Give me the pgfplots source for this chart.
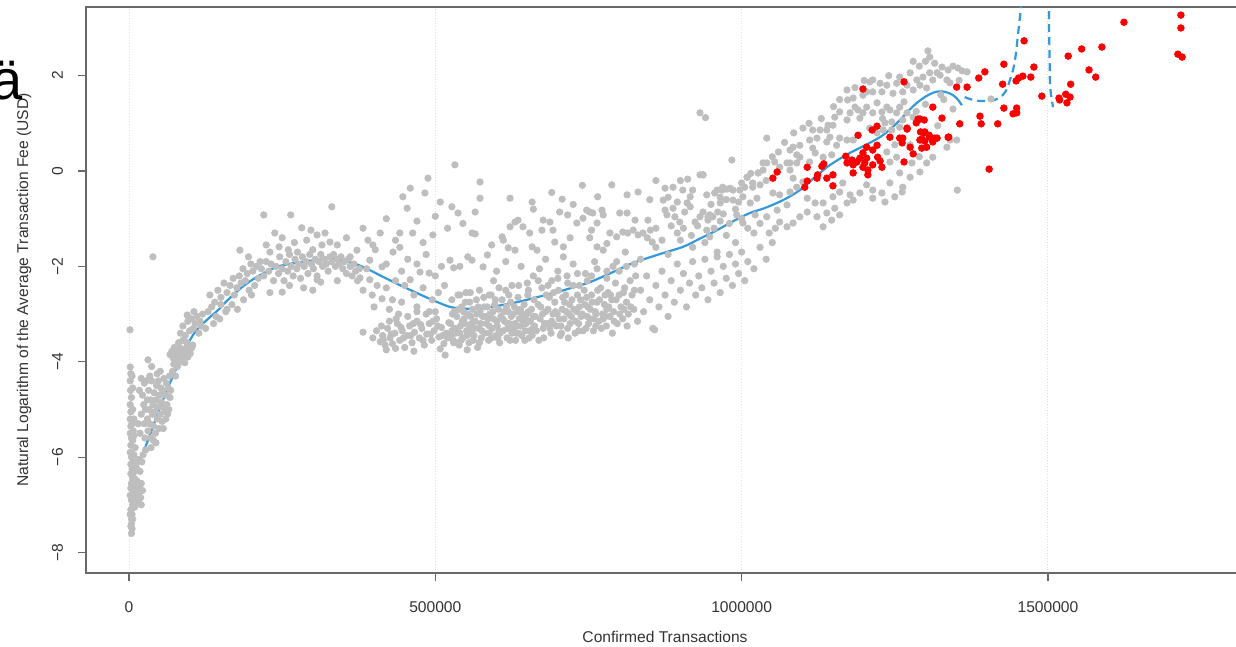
\documentclass[border=0pt]{standalone}
\usepackage{fontspec}
\setmainfont{Liberation Sans}
\usepackage{pgfplots}
\pgfplotsset{compat=1.18}

\definecolor{ptgray}{RGB}{190,190,190}
\definecolor{ptred}{RGB}{250,0,0}
\definecolor{lineblue}{RGB}{52,152,219}
\definecolor{axisgray}{RGB}{105,105,105}
\newcommand\lbl{\fontsize{7.8pt}{9pt}\selectfont}

\begin{document}
\begin{tikzpicture}
\begin{axis}[
  scale only axis,
  width=579pt, height=283pt,
  at={(43pt,37pt)}, anchor=south west,
  xmin=-70.2, xmax=1820, ymin=-8.43, ymax=3.44,
  axis line style={axisgray, line width=0.8pt},
  xtick={0,500,1000,1500},
  xticklabels={0,500000,1000000,1500000},
  ytick={-8,-6,-4,-2,0,2},
  yticklabels={−8,−6,−4,−2,0,2},
  xtick pos=bottom, ytick pos=left,
  tick align=outside,
  major tick length=4pt,
  tick style={axisgray, line width=0.6pt},
  xmajorgrids,
  major grid style={densely dotted, black!12, line width=0.5pt},
  tick label style={font=\lbl, text=black!80},
  xticklabel style={anchor=north, yshift=-7pt},
  yticklabel style={xshift=-4pt, rotate=90, anchor=south},
  label style={font=\lbl, text=black!80},
  xlabel={Confirmed Transactions},
  ylabel={Natural Logarithm of the Average Transaction Fee (USD)},
  xlabel style={at={(axis description cs:0.5,-0.1131)}, anchor=center},
  ylabel style={at={(axis description cs:-0.0535,0.5)}, anchor=center},
  clip=true,
]

% grey: all observations
\addplot[ptgray, only marks, mark=*, mark size=1.6pt, mark options={draw=ptgray, fill=ptgray}] coordinates {
% near-zero volume strip
(1.6,-3.33)(2,-4.11)(2,-4.4)(2.5,-4.6)(2,-4.9)(3,-5.05)(2,-5.2)(3,-5.35)(2,-5.5)(4,-5.6)
(3,-5.75)(2,-5.9)(4,-6.0)(3,-6.15)(5,-6.25)(3,-6.35)(6,-6.45)(4,-6.55)(3,-6.65)(7,-6.7)
(5,-6.8)(4,-6.9)(6,-7.0)(3,-7.1)(5,-7.2)(4,-7.3)(4,-7.4)(5,-7.5)(4,-7.6)(8,-6.9)
(10,-6.8)(12,-6.95)(14,-6.9)(16,-6.75)(9,-7.05)(11,-6.6)(13,-6.5)(17,-6.6)(19,-6.85)(20,-6.55)
(9,-6.3)(11,-6.15)(7,-6.1)(8,-5.95)(10,-5.8)(6,-5.65)(7,-5.45)(5,-5.3)(8,-5.2)(6,-5.0)
(4,-4.75)(6,-4.55)(5,-4.3)(3,-4.25)(8,-5.55)(13,-6.25)(15,-6.05)(18,-6.3)(22,-6.7)(20,-7.0)
(6,-7.3)(3,-7.45)(7,-6.55)(9,-6.45)(2,-6.8)(2,-7.2)(6,-6.2)(12,-6.7)
% early rise
(15,-5.3)(18,-5.5)(20,-5.1)(22,-4.7)(24,-4.9)(25,-5.3)(26,-5.6)(27,-5.0)(28,-4.4)(30,-4.8)
(30,-5.2)(31,-5.45)(32,-4.6)(33,-5.0)(34,-5.3)(35,-4.8)(36,-5.6)(37,-4.4)(38,-5.1)(39,-4.9)
(40,-5.35)(41,-4.65)(42,-5.05)(43,-5.5)(44,-4.8)(45,-4.5)(46,-5.2)(47,-4.95)(48,-4.4)(49,-5.4)
(50,-4.7)(51,-5.1)(52,-4.55)(53,-4.85)(54,-5.25)(55,-4.6)(56,-4.95)(57,-4.35)(58,-5.05)(60,-4.7)
(61,-4.45)(62,-4.9)(63,-5.1)(64,-4.55)(66,-4.3)(67,-4.75)(68,-4.6)(36,-5.8)(40,-5.65)(44,-5.7)
(27,-5.85)(23,-5.95)(21,-6.1)(25,-4.45)(31,-3.96)(37,-4.1)(51,-4.2)(46,-4.25)(34,-4.3)(20,-4.35)
(17,-4.6)(56,-5.4)(60,-5.2)(65,-5.0)(39,-1.80)
(67,-3.85)(70,-3.78)(72,-3.92)(74,-3.7)(76,-3.82)(78,-3.95)(80,-3.75)(82,-3.88)(84,-3.72)(86,-3.8)
(88,-3.93)(90,-3.76)(92,-3.85)(94,-3.7)(96,-3.9)(98,-3.78)(100,-3.83)(102,-3.72)(73,-4.05)(79,-4.1)
(85,-4.0)(91,-4.02)(71,-4.2)(95,-3.6)(88,-3.55)(104,-3.65)(81,-3.6)(76,-4.3)
(84,-3.4)(88,-3.25)(92,-3.45)(96,-3.15)(99,-3.35)(102,-3.1)(105,-3.3)(108,-3.2)(111,-3.05)(114,-3.4)
(116,-3.15)(95,-3.02)(106,-2.95)(120,-3.0)(118,-3.25)
(129,-2.95)(135,-2.85)(142,-3.05)(150,-2.8)(160,-2.9)(125,-3.3)(138,-3.2)
(132,-2.6)(140,-2.75)(145,-2.5)(150,-2.65)(155,-2.35)(160,-2.55)(165,-2.4)(170,-2.25)(172,-2.6)(176,-2.45)
(180,-2.2)(183,-2.35)(186,-2.05)(190,-2.3)(193,-2.15)(196,-2.5)(199,-1.95)(202,-2.1)(205,-2.4)(208,-2.0)
(211,-2.25)(214,-1.9)(187,-2.7)(168,-2.8)(158,-2.95)(148,-3.1)(200,-2.6)(177,-2.9)
(181,-1.66)(195,-1.8)(220,-0.92)
% first peak
(216,-2.05)(220,-2.2)(224,-1.9)(228,-2.1)(232,-1.95)(236,-2.3)(240,-2.0)(244,-2.15)(246,-1.8)(250,-2.05)
(253,-2.3)(256,-1.9)(259,-2.1)(262,-1.75)(265,-2.0)(268,-2.2)(271,-1.85)(274,-2.05)(277,-1.95)(280,-2.25)
(283,-1.8)(286,-2.0)(289,-1.9)(292,-2.15)(295,-1.75)(298,-1.95)(301,-2.05)(304,-1.85)(307,-2.2)(310,-1.9)
(313,-1.75)(316,-2.0)(319,-1.85)(322,-1.95)(325,-2.1)(328,-1.8)(331,-1.9)(334,-1.75)(337,-2.0)(340,-1.85)
(343,-1.95)(346,-1.8)(349,-2.05)(352,-1.9)(355,-2.15)(358,-1.85)(361,-2.0)(364,-2.2)(367,-1.95)(370,-2.1)
(373,-2.3)(376,-2.05)
(230,-1.7)(245,-1.59)(260,-1.65)(270,-1.5)(282,-1.19)(297,-1.24)(307,-1.34)(320,-1.3)(328,-1.49)(250,-1.4)
(238,-1.3)(224,-1.55)(290,-1.45)(315,-1.55)(340,-1.55)(355,-1.4)(331,-0.75)(264,-0.92)(300,-1.65)(275,-1.7)
(307,-2.28)(313,-2.33)(250,-2.54)(262,-2.4)(285,-2.45)(340,-2.3)(300,-2.5)(230,-2.55)
% dip
(382,-1.2)(390,-1.45)(398,-1.55)(393,-2.28)(397,-2.6)(413,-2.68)(430,-2.70)(413,-2.01)(377,-2.24)(372,-1.66)
(361,-1.8)(393,-1.87)(431,-1.70)(442,-1.6)(442,-1.30)(463,-1.30)(496,-1.34)(459,-2.28)(475,-2.12)(490,-2.14)
(524,-1.87)(530,-2.03)(540,-2.0)(553,-1.80)(560,-1.30)(565,-1.32)(402,-1.65)(420,-1.95)(445,-2.1)(455,-1.85)
(470,-1.95)(485,-1.75)(500,-2.2)(510,-2.0)(515,-2.4)(450,-2.4)(465,-2.6)(480,-2.45)(495,-2.7)(505,-2.55)
(420,-2.45)(435,-2.3)(405,-2.4)(388,-2.05)(382,-2.5)(400,-2.85)(425,-2.9)(445,-2.75)(470,-2.85)(490,-2.95)
(532,0.13)(488,-0.15)(573,-0.23)(459,-0.36)(447,-0.54)(483,-0.46)(508,-0.65)(454,-0.78)(527,-0.75)(537,-0.88)
(565,-0.86)(573,-0.57)(420,-1.0)(410,-1.3)(470,-1.05)(500,-0.95)(520,-1.2)(545,-1.1)(435,-1.45)(480,-1.5)
(382,-3.38)(410,-3.58)(415,-3.54)(414,-3.45)(418,-3.65)(422,-3.3)(426,-3.5)(430,-3.62)(434,-3.4)(438,-3.2)
(442,-3.55)(446,-3.35)(450,-3.7)(454,-3.45)(458,-3.25)(462,-3.6)(466,-3.38)(470,-3.15)(474,-3.5)(478,-3.3)
(482,-3.65)(486,-3.42)(490,-3.2)(494,-3.55)(498,-3.35)(502,-3.1)(506,-3.48)(510,-3.28)(514,-3.62)(518,-3.4)
(522,-3.18)(508,-3.73)(516,-3.86)(552,-3.75)(530,-3.6)(425,-3.15)(440,-3.0)(455,-3.05)(470,-2.95)(485,-3.0)
(500,-2.95)(420,-3.75)(435,-3.72)(465,-3.78)(398,-3.5)(404,-3.35)
(412,-3.25)(428,-3.42)(444,-3.28)(460,-3.45)(476,-3.22)(492,-3.42)(504,-3.25)(520,-3.5)(536,-3.35)(548,-3.2)
(436,-3.1)(448,-3.5)(464,-3.2)(480,-3.55)(496,-3.15)(512,-3.45)(527,-3.35)(542,-3.55)(558,-3.4)(572,-3.6)
% lower band
(525,-3.2)(527,-2.7)(529,-3.55)(531,-2.95)(533,-3.4)(535,-3.05)(537,-2.6)(539,-3.65)(541,-3.25)(543,-2.85)
(545,-3.5)(547,-3.1)(549,-2.75)(551,-3.35)(553,-3.0)(555,-3.6)(557,-2.55)(559,-3.2)(561,-2.9)(563,-3.45)
(565,-3.15)(567,-2.7)(569,-3.7)(571,-3.3)(573,-2.95)(575,-3.5)(577,-3.05)(579,-2.65)(581,-3.4)(583,-3.2)
(585,-2.85)(587,-3.55)(589,-3.0)(591,-2.6)(593,-3.3)(595,-3.1)(597,-2.8)(599,-3.45)(601,-3.25)(603,-2.9)
(605,-3.6)(607,-3.05)(609,-2.7)(611,-3.35)(613,-3.15)(615,-2.5)(617,-3.5)(619,-2.95)(621,-3.2)(623,-2.75)
(625,-3.4)(627,-3.0)(629,-2.85)(631,-3.55)(633,-3.25)(635,-2.65)(637,-3.1)(639,-2.9)(641,-3.45)(643,-3.2)
(645,-2.8)(647,-3.35)(649,-3.0)(651,-2.6)(653,-3.5)(655,-3.15)(657,-2.9)(659,-3.3)(661,-2.7)(663,-3.05)
(526,-3.45)(532,-3.3)(538,-2.9)(544,-3.15)(550,-2.55)(556,-3.3)(562,-3.55)(568,-3.0)(574,-3.2)(580,-2.85)
(586,-3.1)(592,-3.5)(598,-2.7)(604,-3.35)(610,-3.1)(616,-2.85)(622,-3.55)(628,-3.3)(634,-2.95)(640,-3.25)
(646,-3.55)(652,-2.95)(658,-3.45)
(528,-3.0)(534,-3.6)(540,-3.4)(546,-2.95)(552,-3.45)(558,-3.05)(564,-3.3)(570,-2.85)(576,-3.35)(582,-3.05)
(588,-3.25)(594,-2.95)(600,-3.15)(606,-3.4)(612,-2.95)(618,-3.3)(624,-3.05)(630,-3.2)(636,-3.4)(642,-3.0)
(648,-3.2)(654,-3.35)(660,-3.05)
(588,-3.4)(602,-3.5)(618,-3.2)(632,-3.4)(648,-3.1)(662,-3.25)(676,-3.3)(692,-3.2)(706,-3.4)(718,-3.0)
(734,-3.35)(748,-3.05)(762,-3.25)(778,-3.05)(792,-3.15)(808,-2.9)
(665,-3.35)(668,-2.8)(671,-3.1)(674,-2.45)(677,-3.5)(680,-2.95)(683,-3.2)(686,-2.65)(689,-3.4)(692,-3.0)
(695,-2.75)(698,-3.25)(701,-2.5)(704,-3.45)(707,-2.9)(710,-3.1)(713,-2.6)(716,-3.3)(719,-2.8)(722,-3.05)
(725,-2.4)(728,-3.4)(731,-2.95)(734,-3.2)(737,-2.7)(740,-3.0)(743,-2.5)(746,-3.3)(749,-2.85)(752,-3.1)
(755,-2.6)(758,-3.35)(761,-2.95)(764,-2.75)(767,-3.15)(770,-2.45)(773,-3.0)(776,-2.8)(779,-3.25)(782,-2.55)
(785,-3.05)(788,-2.7)(791,-2.95)(794,-2.35)(797,-3.2)(800,-2.6)(803,-2.85)(806,-3.1)(809,-2.45)(812,-2.75)
(815,-3.0)(818,-2.3)(821,-2.6)(824,-2.9)(827,-2.2)(830,-3.15)
(669,-3.55)(675,-3.0)(681,-2.6)(687,-3.3)(693,-2.55)(699,-3.0)(705,-3.25)(711,-2.75)(717,-3.5)(723,-2.7)
(729,-3.15)(735,-2.85)(741,-3.35)(747,-2.65)(753,-2.9)(759,-3.1)(765,-2.5)(771,-3.3)(777,-2.6)(783,-2.85)
(789,-3.4)(795,-2.7)(801,-3.0)(807,-2.55)(813,-3.25)(819,-2.85)(825,-2.5)
(672,-2.85)(678,-3.2)(684,-2.9)(690,-3.15)(696,-2.95)(702,-3.1)(708,-2.65)(714,-2.95)(720,-3.2)(726,-2.9)
(732,-2.6)(738,-3.05)(744,-2.8)(750,-3.2)(756,-2.75)(762,-3.0)(768,-2.7)(774,-3.1)(780,-2.9)(786,-2.6)
(540,-2.6)(556,-2.75)(572,-2.5)(588,-2.6)(604,-2.45)(620,-2.6)(636,-2.4)(652,-2.5)(668,-2.3)(684,-2.4)
(700,-2.25)(716,-2.35)(732,-2.15)(748,-2.3)(764,-2.05)(780,-2.1)(796,-1.9)(812,-2.0)
% middle of the cloud
(609,-1.38)(611,-1.45)(622,-1.17)(630,-1.07)(635,-1.03)(619,-1.61)(630,-1.66)(643,-1.17)(654,-1.30)(658,-1.59)
(666,-1.66)(674,-1.24)(676,-1.03)(687,-1.07)(692,-1.24)(695,-1.49)(703,-0.86)(716,-0.92)(720,-1.40)(709,-1.59)
(709,-1.80)(731,-1.09)(741,-0.99)(747,-0.82)(752,-0.86)(757,-0.88)(772,-0.82)(774,-0.92)(764,-1.09)(755,-1.24)
(752,-1.40)(764,-1.59)(774,-1.66)(780,-1.52)(785,-1.30)(796,-1.38)(806,-1.28)(814,-1.30)(823,-1.24)(831,-1.34)
(839,-1.30)(846,-1.40)(801,-0.88)(813,-0.88)(826,-1.03)(847,-1.03)(851,-1.24)(854,-1.49)(875,-0.82)(878,-0.92)
(888,-0.78)(891,-0.96)(899,-1.07)(907,-0.86)(911,-0.67)(916,-0.75)(924,-1.07)(932,-0.96)(937,-0.86)(948,-0.92)
(945,-1.03)(953,-0.96)(943,-1.24)(948,-1.38)(578,-2.01)(585,-1.76)(592,-1.55)(560,-1.87)
(600,-2.1)(615,-1.9)(640,-2.0)(660,-2.2)(680,-1.85)(700,-2.1)(725,-1.95)(745,-2.15)(760,-1.9)(790,-2.0)
(810,-1.7)(835,-1.85)(860,-1.6)(880,-1.75)(900,-1.45)(920,-1.6)(940,-1.5)(960,-1.7)(975,-1.35)(990,-1.5)
(595,-2.3)(625,-2.4)(650,-2.35)(670,-2.05)(690,-2.3)(715,-2.2)(735,-2.4)(755,-2.2)(780,-2.25)(800,-2.1)
(825,-1.95)
(860,-1.2)(870,-1.45)(885,-1.15)(895,-1.3)(905,-1.2)(918,-1.35)(928,-1.15)(955,-1.2)(965,-1.05)(970,-0.9)
(980,-1.1)(990,-0.8)(1000,-1.0)(1010,-1.2)(1020,-1.3)(1030,-1.1)(1045,-1.3)(1055,-1.2)(880,-0.55)(895,-0.65)
(920,-0.4)(950,-0.7)(975,-0.6)(1000,-0.25)(1015,-0.05)(1040,-0.2)
(622,-0.57)(658,-0.65)(707,-0.59)(765,-0.54)(788,-0.29)(831,-0.44)(813,-0.50)(875,-0.36)(888,-0.34)(904,-0.40)
(916,-0.54)(932,-0.08)(937,-0.08)(912,-0.17)(872,-0.61)(984,0.23)(960,-0.40)(981,-0.36)(1009,-0.13)(1035,0.17)
(1027,-0.04)(1018,-0.34)(1051,-0.46)(1079,0.17)(1090,0.34)(941,1.12)(932,1.22)
(660,-0.8)(690,-0.45)(725,-0.7)(740,-0.3)(850,-0.6)(860,-0.2)(900,-0.2)(965,-0.55)(995,-0.65)
(835,-2.5)(840,-2.95)(845,-2.2)(850,-2.7)(855,-3.3)(860,-2.4)(865,-2.85)(870,-2.1)(875,-2.6)(880,-3.05)
(885,-2.3)(890,-2.75)(895,-1.95)(900,-2.5)(905,-2.15)(910,-2.85)(915,-2.35)(920,-1.9)(925,-2.6)(930,-2.2)
(935,-2.45)(940,-1.85)(945,-2.7)(950,-2.1)(955,-2.35)(960,-1.8)(965,-2.55)(970,-2.0)(975,-2.25)(980,-1.75)
(985,-2.4)(990,-1.95)(995,-2.15)(1000,-1.7)(1005,-2.3)(1010,-1.9)(1020,-2.05)(1030,-1.6)(1040,-1.85)(1050,-1.5)
(858,-3.33)
% upper cloud
(1304,2.52)(1307,2.39)(1315,2.26)(1327,2.18)(1337,2.12)(1353,2.16)(1368,2.08)(1319,2.06)(1307,2.06)(1324,2.01)
(1335,1.91)(1312,1.91)(1296,1.97)(1286,1.91)(1275,2.06)(1258,1.97)(1253,1.84)(1270,1.80)(1291,1.80)(1302,1.74)
(1280,1.70)(1263,1.66)(1247,1.63)(1237,1.80)(1226,1.84)(1214,1.91)(1209,1.87)(1229,1.66)(1214,1.66)(1204,1.66)
(1198,1.59)(1182,1.53)(1172,1.70)(1173,1.49)(1185,1.34)(1190,1.28)(1204,1.34)(1221,1.43)(1237,1.34)(1242,1.28)
(1229,1.24)(1214,1.22)(1258,1.34)(1253,1.22)(1270,1.22)(1263,1.07)(1280,1.13)(1258,0.92)(1245,1.03)(1234,1.01)
(1245,0.86)(1231,0.86)(1221,0.80)(1209,0.90)(1193,1.11)(1198,1.22)(1177,1.22)(1172,1.07)(1160,1.24)(1152,1.13)
(1149,0.96)(1139,0.86)(1141,0.96)(1128,0.86)(1116,0.86)(1144,0.71)(1160,0.69)(1172,0.65)(1182,0.65)(1155,0.54)
(1139,0.61)(1123,0.69)(1111,0.65)(1095,0.54)(1084,0.50)(1079,0.44)(1116,0.48)(1120,0.38)(1133,0.29)(1147,0.34)
(1111,0.19)(1095,0.29)(1090,0.17)(1074,0.17)(1079,0.02)(1062,0.08)(1054,0.19)(1041,0.17)(1035,0.02)(1027,-0.04)
(1041,0.69)(1009,-0.13)(1018,-0.25)(1030,-0.29)(1005,-0.34)(997,-0.40)(986,-0.40)(976,-0.38)(969,-0.34)(956,-0.46)
(943,-0.50)(937,-0.08)(968,-0.40)(1002,-0.54)(1014,-0.67)(1025,-0.57)(986,-0.61)(965,-0.67)(945,-0.96)(961,-0.86)
(992,-0.92)(1002,-1.09)(1022,-0.92)(1041,-0.96)(1058,-0.82)(1074,-0.71)(1062,-0.50)(1079,-0.44)(1090,-0.34)(1100,-0.23)
(1084,-0.15)(1107,-0.57)(1120,-0.67)(1133,-0.67)(1149,-0.54)(1160,-0.44)(1165,-0.25)(1177,-0.50)(1172,-0.67)(1152,-0.78)
(1139,-0.88)(1123,-0.96)(1107,-0.86)(1095,-0.96)(1084,-1.09)(1074,-1.17)(1062,-1.07)(1133,-1.17)(1147,-1.03)(1160,-0.92)
(1182,-0.61)(1193,-0.46)(1204,-0.29)(1214,-0.40)(1229,-0.46)(1242,-0.25)(1250,-0.54)(1214,-0.57)(1234,-0.65)(1263,-0.34)
(1258,-0.04)(1275,-0.13)(1291,-0.02)(1352,-0.40)(1253,0.29)(1242,0.19)(1237,0.40)(1302,0.17)(1312,0.29)
(1330,1.5)(1345,1.3)(1340,1.85)(1325,1.6)(1300,1.4)(1285,1.25)(1320,0.95)(1335,0.5)(1290,0.3)(1275,0.55)
(1250,0.55)(1230,1.1)(1265,1.45)(1355,1.9)(1360,2.1)(1345,2.2)(1240,2.0)(1200,1.9)(1185,1.75)(1160,1.5)
(1150,1.35)(1130,1.1)(1110,1.0)(1100,0.9)(1085,0.8)(1070,0.6)(1060,0.4)(1050,0.3)(1290,2.2)(1300,2.3)
(1280,2.3)(1351,0.65)(1340,0.65)(1407,1.51)(1278,0.17)(1262,-0.44)
};

% red: highlighted observations
\addplot[ptred, only marks, mark=*, mark size=1.65pt, mark options={draw=ptred, fill=ptred}] coordinates {
(1717,3.27)(1717,3.00)(1624,3.12)(1712,2.45)(1719,2.39)(1588,2.60)(1555,2.56)(1533,2.41)(1567,2.12)(1578,1.97)
(1537,1.82)(1529,1.61)(1536,1.55)(1518,1.53)(1519,1.49)(1531,1.43)(1490,1.57)(1477,2.18)(1472,1.97)(1461,2.73)
(1459,1.99)(1452,1.95)(1448,1.89)(1426,1.82)(1428,2.24)(1397,2.08)(1387,1.95)(1368,1.76)(1351,1.76)(1428,1.32)
(1449,1.32)(1443,1.20)(1449,1.22)(1389,1.15)(1391,0.99)(1418,0.99)(1356,0.99)(1404,0.04)(1312,1.34)(1327,1.11)
(1265,1.87)(1270,0.90)(1285,1.01)(1291,1.09)(1298,1.07)(1292,0.82)(1299,0.82)(1306,0.75)(1294,0.67)(1299,0.63)
(1315,0.69)(1312,0.61)(1338,0.71)(1263,0.69)(1262,0.59)(1275,0.50)(1294,0.48)(1302,0.50)(1280,0.36)(1265,0.19)
(1198,1.72)(1288,1.09)(1270,0.88)(1221,0.94)(1213,0.86)(1242,0.71)(1190,0.75)(1258,0.69)(1291,0.65)(1298,0.80)
(1307,0.71)(1319,0.69)(1337,0.71)(1221,0.54)(1214,0.44)(1204,0.50)(1198,0.38)(1204,0.27)(1222,0.29)(1226,0.21)
(1214,0.13)(1229,0.08)(1193,0.27)(1188,0.19)(1180,0.23)(1172,0.17)(1182,0.13)(1201,0.17)(1206,0.02)(1198,0.08)
(1170,0.31)(1182,-0.04)(1206,-0.08)(1149,-0.08)(1139,-0.15)(1134,0.15)(1131,0.10)(1124,-0.08)(1123,-0.15)(1107,0.08)
(1107,-0.21)(1103,-0.34)(1149,-0.31)(1058,-0.02)(1051,-0.15)
};

% smoothed fit
\addplot[lineblue, line width=1.1pt, smooth] coordinates {
(1.6,-6.65)(15,-6.15)(29.4,-5.70)(45,-5.15)(62,-4.59)(78.3,-4.11)(92,-3.72)(107.7,-3.38)(127.3,-3.12)(145,-2.92)
(161.6,-2.70)(185,-2.43)(208.9,-2.22)(241.6,-2.01)(279.1,-1.91)(310,-1.86)(333,-1.84)(365.6,-1.93)(390,-2.06)(414.6,-2.22)
(440,-2.38)(470.1,-2.56)(500,-2.73)(524,-2.85)(550,-2.89)(577.8,-2.87)(605,-2.82)(633.3,-2.75)(665,-2.65)(698.6,-2.54)
(725,-2.44)(752.4,-2.33)(790,-2.12)(822.6,-1.93)(862,-1.76)(904.2,-1.59)(930,-1.43)(959.7,-1.24)(985,-1.06)(1013.5,-0.88)
(1035,-0.79)(1057.6,-0.67)(1075,-0.56)(1095.1,-0.40)(1115,-0.18)(1139.2,0.08)(1158,0.24)(1176.7,0.38)(1200,0.53)(1225.7,0.71)
(1243,0.88)(1258.4,1.07)(1273,1.27)(1286.1,1.43)(1300,1.56)(1312.2,1.64)(1322,1.67)(1331.8,1.66)(1341,1.62)(1348.1,1.56)
(1354,1.48)(1359.5,1.38)
};

% extrapolated fit
\addplot[lineblue, line width=1.1pt, dash pattern=on 4pt off 2.5pt, smooth] coordinates {
(1364,1.55)(1375,1.50)(1388,1.47)(1400,1.47)(1413,1.49)(1426,1.59)(1433,1.72)(1438,1.91)(1443,2.12)(1447,2.40)
(1451,2.85)(1456,3.44)(1459,3.9)
};
\addplot[lineblue, line width=1.1pt, dash pattern=on 4pt off 2.5pt] coordinates {
(1501.5,3.9)(1501.8,3.0)(1502.5,2.5)(1503.2,1.8)(1505,1.6)(1506.4,1.49)(1508.1,1.34)
};
\end{axis}

\node[anchor=base west, inner sep=0pt, font=\fontsize{28pt}{30pt}\selectfont] at (-4.5pt,273.5pt) {ä};

\pgfresetboundingbox
\path[use as bounding box] (0,0) rectangle (618pt,323.5pt);
\end{tikzpicture}
\end{document}
